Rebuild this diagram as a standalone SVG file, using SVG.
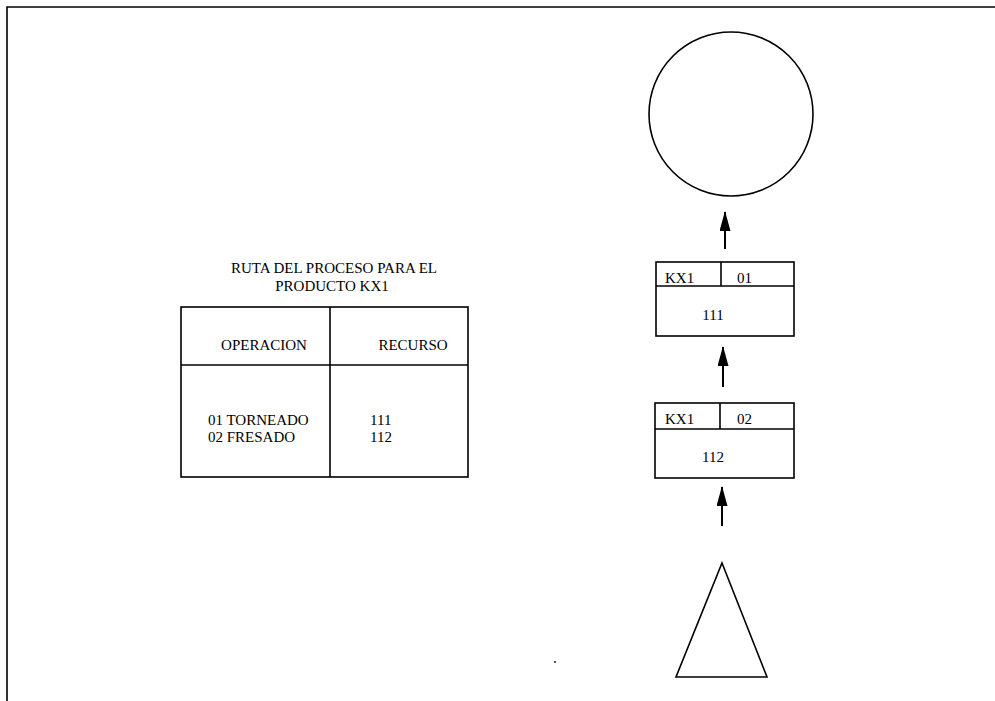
<svg xmlns="http://www.w3.org/2000/svg" width="995" height="701" viewBox="0 0 995 701">
<style>
.ln{fill:none;stroke:#000;stroke-width:1.6}
.t{font-family:"Liberation Serif","Times New Roman",serif;font-size:15px;fill:#000}
.m{text-anchor:middle}
.ar{stroke:#000;stroke-width:2;fill:none}
</style>
<defs>
<marker id="ah" markerWidth="20" markerHeight="11" refX="19" refY="5.5" orient="auto" markerUnits="userSpaceOnUse" viewBox="0 0 20 11">
<path d="M0,0 L20,5.5 L0,11 Z" fill="#000"/>
</marker>
</defs>
<rect width="995" height="701" fill="#fff"/>
<g id="frame">
<path class="ln" d="M995,7 L7,7 L7,701"/>
</g>
<g id="table">
<text class="t m" x="334" y="273">RUTA DEL PROCESO PARA EL</text>
<text class="t m" x="332" y="291">PRODUCTO KX1</text>
<rect class="ln" x="181" y="307" width="287" height="170"/>
<line class="ln" x1="181" y1="365" x2="468" y2="365"/>
<line class="ln" x1="330" y1="307" x2="330" y2="477"/>
<text class="t m" x="264" y="350">OPERACION</text>
<text class="t m" x="413" y="350">RECURSO</text>
<text class="t" x="208" y="425">01 TORNEADO</text>
<text class="t" x="208" y="442">02 FRESADO</text>
<text class="t" x="370" y="425">111</text>
<text class="t" x="370" y="442">112</text>
</g>
<g id="end-circle">
<circle class="ln" cx="731" cy="114" r="82"/>
</g>
<g id="op01">
<rect class="ln" x="656" y="262" width="138" height="74"/>
<line class="ln" x1="656" y1="286" x2="794" y2="286"/>
<line class="ln" x1="721" y1="262" x2="721" y2="286"/>
<text class="t" x="665" y="283">KX1</text>
<text class="t" x="737" y="283">01</text>
<text class="t m" x="713" y="320">111</text>
</g>
<g id="op02">
<rect class="ln" x="655" y="403" width="139" height="75"/>
<line class="ln" x1="655" y1="429" x2="794" y2="429"/>
<line class="ln" x1="720" y1="403" x2="720" y2="429"/>
<text class="t" x="665" y="424">KX1</text>
<text class="t" x="737" y="424">02</text>
<text class="t m" x="713" y="462">112</text>
</g>
<g id="start-triangle">
<polygon class="ln" points="722,563 767,677 676,677"/>
</g>
<g id="connectors">
<line class="ar" x1="725" y1="249" x2="725" y2="212" marker-end="url(#ah)"/>
<line class="ar" x1="723" y1="387" x2="723" y2="347" marker-end="url(#ah)"/>
<line class="ar" x1="722" y1="526" x2="722" y2="487" marker-end="url(#ah)"/>
</g>
<circle cx="555" cy="662" r="0.9" fill="#000"/>
</svg>
